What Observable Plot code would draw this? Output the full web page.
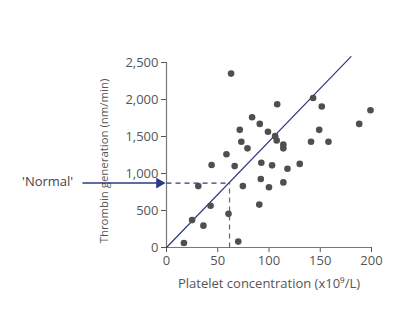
<!DOCTYPE html>
<html>
<head>
<meta charset="utf-8">
<script src="https://cdn.jsdelivr.net/npm/d3@7"></script>
<script src="https://cdn.jsdelivr.net/npm/@observablehq/plot@0.6"></script>
<style>
  html, body { margin: 0; padding: 0; background: #fff; }
  #chart svg { display: block; }
</style>
</head>
<body>
<div id="chart"></div>
<script>
// Data
const plateletX = [17, 25, 31, 36, 43, 44, 58.5, 60.5, 63, 66.5, 70, 71.5, 73, 74.5, 79, 83.5, 90.5, 91, 92, 92.5, 99, 100, 103, 106, 107.5, 108, 114, 114, 114, 118, 130, 141, 143, 149, 151.5, 158, 188, 199];
const thrombinY = [60, 370, 830, 295, 565, 1115, 1260, 455, 2350, 1100, 80, 1590, 1430, 830, 1340, 1760, 580, 1670, 925, 1145, 1565, 815, 1110, 1505, 1445, 1935, 1390, 1340, 880, 1065, 1130, 1430, 2020, 1590, 1905, 1430, 1670, 1855];
const xTicks = [0, 50, 100, 150, 200];
const yTicks = [0, 500, 1000, 1500, 2000, 2500];
const fitX = [0, 180];
const fitY = [0, 2580];
const normalX = [61.5];
const normalY = [870];
const normalLabel = ["'Normal'"];
const xLabel = "Platelet concentration (x10\u2079/L)";
const yLabel = "Thrombin generation (nm/min)";

const points = plateletX.map((x, i) => ({x, y: thrombinY[i]}));
const fit = fitX.map((x, i) => ({x, y: fitY[i]}));
const normal = normalX.map((x, i) => ({x, y: normalY[i], label: normalLabel[i]}));

const navy = "#2b3a82";
const grey = "#4f4f4f";

const chart = Plot.plot({
  width: 411,
  height: 322,
  marginLeft: 166,
  marginRight: 40,
  marginTop: 62,
  marginBottom: 75,
  style: {fontFamily: "'Open Sans', sans-serif", fontSize: "13px", color: "#555", background: "#fff", overflow: "visible"},
  x: {domain: [0, 200], ticks: xTicks, tickSize: 5, tickPadding: 3, label: xLabel, labelAnchor: "center", labelOffset: 40, labelArrow: "none"},
  y: {domain: [0, 2500], ticks: yTicks, tickSize: 5, tickPadding: 3, label: yLabel, labelAnchor: "center", labelOffset: 67, labelArrow: "none"},
  marks: [
    Plot.ruleY([0], {stroke: "#777", strokeWidth: 1.2}),
    Plot.ruleX([0], {stroke: "#777", strokeWidth: 1.2}),
    Plot.line(fit, {x: "x", y: "y", stroke: navy, strokeWidth: 1.2}),
    Plot.link(normal, {x1: 0, x2: "x", y1: "y", y2: "y", stroke: navy, strokeWidth: 1.2, strokeDasharray: "5,4"}),
    Plot.link(normal, {x1: "x", x2: "x", y1: 0, y2: "y", stroke: "#5560a0", strokeWidth: 1.2, strokeDasharray: "5,4"}),
    Plot.dot(points, {x: "x", y: "y", r: 3.3, fill: grey, stroke: "none"}),
    // annotation arrow in the left margin pointing to the 'Normal' level
    Plot.link(normal, {x1: -82, x2: -8, y1: "y", y2: "y", stroke: navy, strokeWidth: 1.5}),
    Plot.dot(normal, {x: -7, y: "y", symbol: "triangle", rotate: 90, r: 4, fill: navy, stroke: "none"}),
    Plot.text(normal, {x: -91, y: "y", text: "label", textAnchor: "end", fill: "#444", fontSize: 13, dy: -1})
  ]
});
// slightly smaller y-axis title, nudged so the word gap sits on the annotation arrow, as in the reference
const yTitle = chart.querySelector('[aria-label="y-axis label"] text') || chart.querySelector('[aria-label="y-axis label"]');
if (yTitle) { yTitle.style.fontSize = "11.4px"; yTitle.setAttribute("dx", "-6"); }
document.getElementById("chart").appendChild(chart);
</script>
</body>
</html>
